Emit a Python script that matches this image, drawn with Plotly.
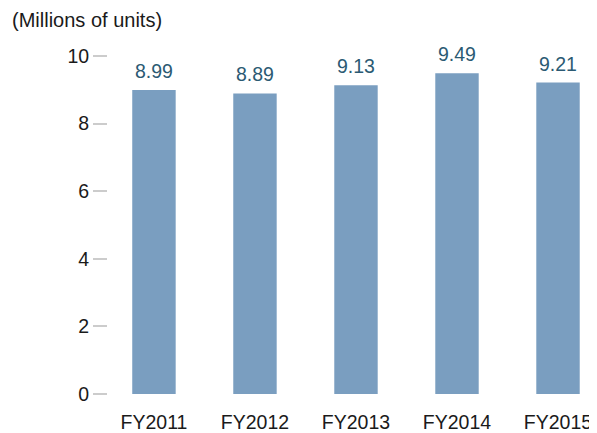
import plotly.graph_objects as go

categories = ["FY2011", "FY2012", "FY2013", "FY2014", "FY2015"]
values = [8.99, 8.89, 9.13, 9.49, 9.21]
value_labels = ["8.99", "8.89", "9.13", "9.49", "9.21"]
y_ticks = [0, 2, 4, 6, 8, 10]

FONT = "Liberation Sans, Arial, Helvetica, sans-serif"
FS = 19.5

fig = go.Figure()
fig.add_trace(go.Bar(
    x=list(range(len(categories))), y=values,
    marker=dict(color="#7a9ec0", line=dict(width=0)),
    width=0.43,
    hoverinfo="skip",
))

for i, (v, lab) in enumerate(zip(values, value_labels)):
    fig.add_annotation(x=i, y=v, text=lab, showarrow=False, xanchor="center",
                       yanchor="bottom", yshift=6,
                       font=dict(family=FONT, size=FS, color="#2b5a73"))

fig.add_annotation(xref="paper", yref="paper", x=-0.2004, y=1.0, yshift=20,
                   xanchor="left", yanchor="middle", text="(Millions of units)",
                   showarrow=False, font=dict(family=FONT, size=20, color="#1a1a1a"))

fig.update_layout(
    width=589, height=425,
    margin=dict(l=100, r=0, t=32, b=36),
    paper_bgcolor="white", plot_bgcolor="white",
    showlegend=False,
    font=dict(family=FONT, size=FS, color="#1a1a1a"),
    xaxis=dict(
        range=[-0.455, 4.386],
        tickmode="array", tickvals=list(range(len(categories))), ticktext=categories,
        showgrid=False, zeroline=False, showline=False,
        ticks="outside", ticklen=11, tickcolor="rgba(0,0,0,0)",
        tickfont=dict(family=FONT, size=FS, color="#1a1a1a"),
    ),
    yaxis=dict(
        range=[0, 10.47],
        tickmode="array", tickvals=y_ticks, ticktext=[str(t) for t in y_ticks],
        showgrid=False, zeroline=False, showline=False,
        ticks="outside", ticklen=14, tickwidth=2, tickcolor="#cccccc",
        tickfont=dict(family=FONT, size=FS, color="#1a1a1a"),
    ),
)

fig.write_html("out.html")
